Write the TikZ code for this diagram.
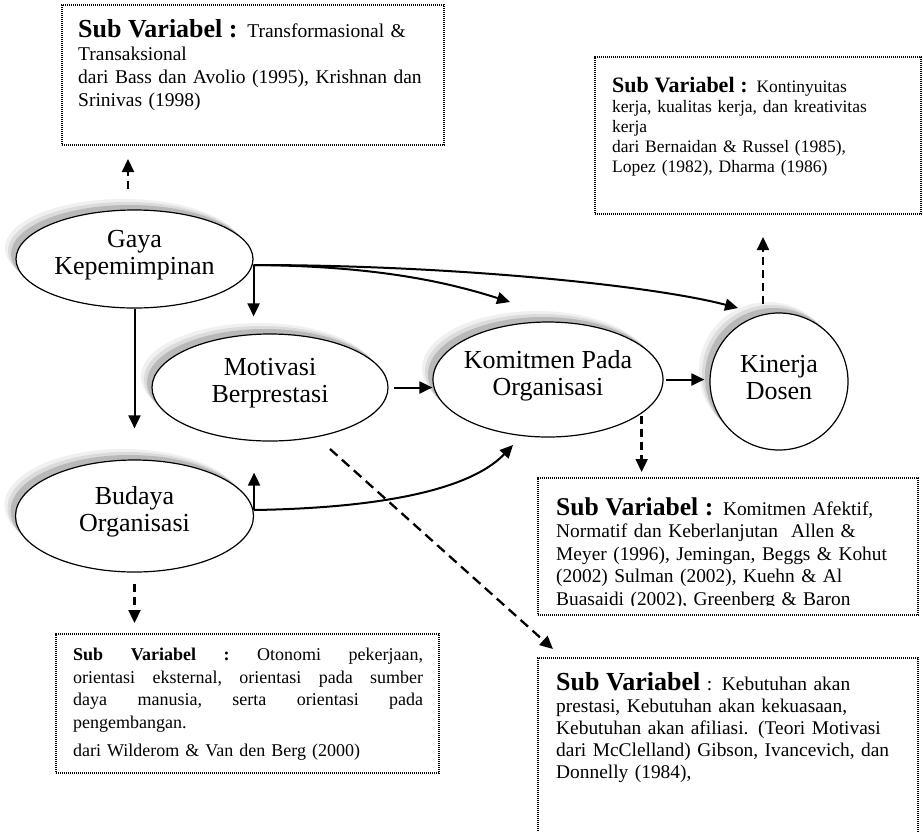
\documentclass[tikz,border=0pt]{standalone}
\usepackage{fontspec}
\setmainfont{Liberation Serif}
\usetikzlibrary{arrows.meta,shapes.geometric,shadows}
\begin{document}
\begin{tikzpicture}[x=1pt,y=-1pt,
  arr/.style={line width=2pt,-{Triangle[length=13pt,width=12pt]}},
  darr/.style={arr,line width=2.3pt,dash pattern=on 8pt off 5pt},
  ddarr/.style={arr,line width=2.3pt,dash pattern=on 10pt off 6pt},
  ell/.style={ellipse,draw,line width=1.2pt,fill=white,inner sep=0pt,
    general shadow={fill=gray!12,shadow xshift=-11pt,shadow yshift=11pt},
    general shadow={fill=gray!28,shadow xshift=-8pt,shadow yshift=8pt},
    general shadow={fill=gray!55,shadow xshift=-5pt,shadow yshift=5pt}},
  lbl/.style={align=center,inner sep=0pt,yshift=4pt,font=\fontsize{26}{27}\selectfont},
  subbox/.style={draw,line width=2pt,dash pattern=on 1.4pt off 0.6pt,anchor=north west,inner sep=0pt},
  txt/.style={anchor=north west,inner sep=0pt,align=left},
]
\useasboundingbox (0,0) rectangle (923,831);
\clip (0,0) rectangle (923,831);
\fill[white] (0,0) rectangle (923,831);

% dotted boxes of the sub-variables
\node[subbox,minimum width=382pt,minimum height=140pt] (boxGaya) at (61,4) {};
\node[subbox,minimum width=326pt,minimum height=157pt] (boxKin) at (594,56) {};
\node[subbox,minimum width=380pt,minimum height=137pt] (boxKom) at (537,477) {};
\node[subbox,minimum width=380pt,minimum height=200pt] (boxMot) at (537,657) {};
\node[subbox,minimum width=383pt,minimum height=139pt] (boxBud) at (55,633) {};

% texts of the boxes
\node[txt,text width=370pt,font=\fontsize{19.5}{23}\selectfont] (txtGaya) at (78,19.5)
  {{\fontsize{26}{26}\selectfont\bfseries Sub Variabel :} Transformasional \&\\Transaksional\\dari Bass dan Avolio (1995), Krishnan dan\\Srinivas (1998)};
\node[txt,text width=310pt,font=\fontsize{17.5}{20}\selectfont] (txtKin) at (612,77)
  {{\fontsize{22}{22}\selectfont\bfseries Sub Variabel :} Kontinyuitas\\kerja, kualitas kerja, dan kreativitas\\kerja\\dari Bernaidan \& Russel (1985),\\Lopez (1982), Dharma (1986)};
\begin{scope}
  \clip (537,477) rectangle (917,605);
  \node[txt,text width=360pt,font=\fontsize{19.4}{22.5}\selectfont] (txtKom) at (556,497.5)
    {{\fontsize{25.6}{26}\selectfont\bfseries Sub Variabel :} Komitmen Afektif,\\Normatif dan Keberlanjutan\ \ Allen \&\\Meyer (1996), Jemingan, Beggs \& Kohut\\(2002) Sulman (2002), Kuehn \& Al\\Buasaidi (2002), Greenberg \& Baron};
\end{scope}
\node[txt,text width=360pt,font=\fontsize{19.4}{22}\selectfont] (txtMot) at (556,672.5)
  {{\fontsize{26}{26}\selectfont\bfseries Sub Variabel} : Kebutuhan akan\\prestasi, Kebutuhan akan kekuasaan,\\Kebutuhan akan afiliasi. (Teori Motivasi\\dari McClelland) Gibson, Ivancevich, dan\\Donnelly (1984),};
\node[txt,text width=350pt,font=\fontsize{18}{22.7}\selectfont] (txtBud) at (73,647.8)
  {\leavevmode\hbox to 350pt{\textbf{Sub}\hfill\textbf{Variabel}\hfill\textbf{:}\hfill Otonomi\hfill pekerjaan,}\\
   \leavevmode\hbox to 350pt{orientasi\hfill eksternal,\hfill orientasi\hfill pada\hfill sumber}\\
   \leavevmode\hbox to 350pt{daya\hfill manusia,\hfill serta\hfill orientasi\hfill pada}\\
   pengembangan.\\[5pt]dari Wilderom \& Van den Berg (2000)};

% variables
\node[ell,minimum width=237pt,minimum height=98pt] (gaya) at (134.5,259) {};
\node[lbl] (gayaT) at (gaya) {Gaya\\Kepemimpinan};
\node[ell,minimum width=236pt,minimum height=107pt] (mot) at (270,387.5) {};
\node[lbl] (motT) at (mot) {Motivasi\\Berprestasi};
\node[ell,minimum width=230pt,minimum height=115pt] (kom) at (548,379.5) {};
\node[lbl] (komT) at (kom) {Komitmen Pada\\Organisasi};
\node[ell,minimum width=138pt,minimum height=137pt] (kin) at (779,381.5) {};
\node[lbl] (kinT) at (kin) {Kinerja\\Dosen};
\node[ell,minimum width=238pt,minimum height=112pt] (bud) at (134.5,516) {};
\node[lbl] (budT) at (bud) {Budaya\\Organisasi};

% connector end points
\coordinate (gOut) at ([yshift=-6pt]gaya.east);
\coordinate (gTop) at ([xshift=-6.5pt]gaya.north);
\coordinate (bOut) at ([yshift=6pt]bud.east);
\coordinate (kinTop) at ([xshift=-16pt]kin.north);
\coordinate (kOut) at (kom.-20.6);
\coordinate (komIn) at (510,302);
\coordinate (kinIn) at (738,308);
\coordinate (komLow) at (513,445);
\coordinate (diagS) at (330,449);
\coordinate (diagE) at (553,649);

% causal paths
\draw[arr,shorten >=17pt] (gOut) -- (gOut |- mot.north);
\draw[arr] (gOut) .. controls (380,266) and (450,283) .. (komIn);
\draw[arr] (gOut) .. controls (450,265) and (650,285) .. (kinIn);
\draw[arr,shorten >=31pt] (gaya.south) -- (bud.north);
\draw[arr,shorten <=5pt] (mot.east) -- (mot.east -| kom.west);
\draw[arr,shorten <=2pt,shorten >=5pt] (kom.east) -- (kom.east -| kin.west);
\draw[arr,shorten >=31pt] (bOut) -- (bOut |- mot.south);
\draw[arr] (bOut) .. controls (380,508) and (470,490) .. (komLow);

% links to the sub-variables
\draw[darr,shorten <=20pt,shorten >=13pt] (gTop) -- (gTop |- boxGaya.south);
\draw[darr,shorten <=8pt,shorten >=22pt] (kinTop) -- (kinTop |- boxKin.south);
\draw[darr,shorten <=2pt,shorten >=5pt] (kOut) -- (kOut |- boxKom.north);
\draw[darr,shorten <=11pt,shorten >=10pt] (bud.south) -- (bud.south |- boxBud.north);
\draw[ddarr] (diagS) -- (diagE);
\end{tikzpicture}
\end{document}
